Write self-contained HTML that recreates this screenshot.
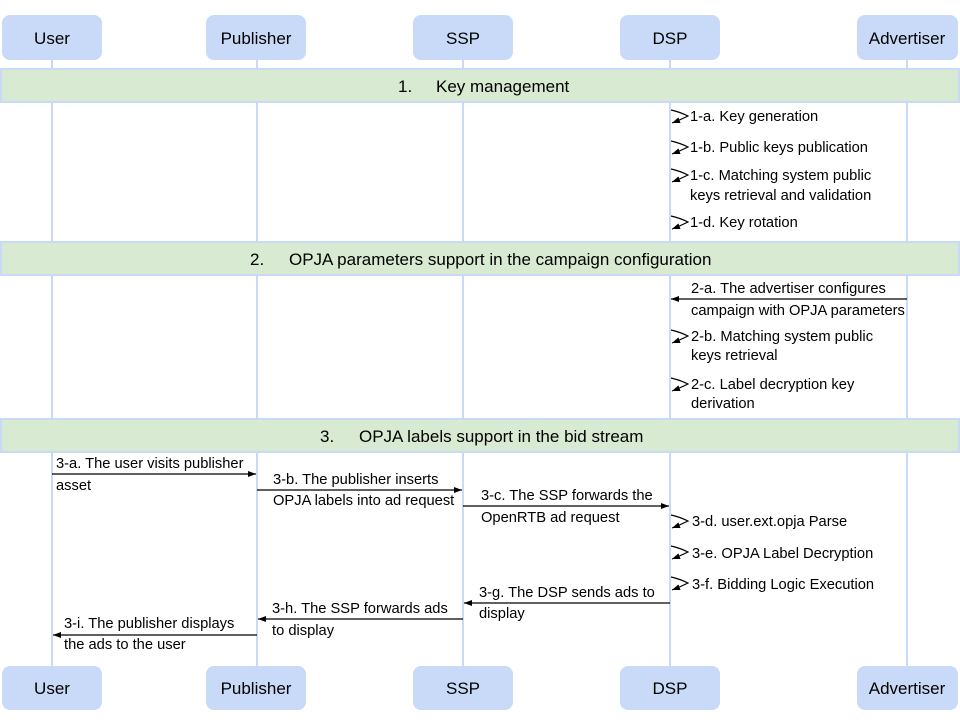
<!DOCTYPE html>
<html><head><meta charset="utf-8"><style>
html,body{margin:0;padding:0;background:#fff}
svg{display:block;font-family:"Liberation Sans",Arial,sans-serif}
</style></head><body>
<svg width="960" height="720" viewBox="0 0 960 720" xmlns="http://www.w3.org/2000/svg">
<defs>
<marker id="a" markerWidth="8" markerHeight="6" refX="8" refY="3" orient="auto" markerUnits="userSpaceOnUse"><path d="M0,0 L8,3 L0,6 z" fill="#000"/></marker>
</defs>
<g stroke="#c9daf8" stroke-width="2">
<line x1="52" y1="60" x2="52" y2="666"/>
<line x1="257" y1="60" x2="257" y2="666"/>
<line x1="463" y1="60" x2="463" y2="666"/>
<line x1="670" y1="60" x2="670" y2="666"/>
<line x1="907" y1="60" x2="907" y2="666"/>
</g>
<g fill="#c9daf8">
<rect x="2" y="15" width="100" height="45" rx="8"/>
<rect x="206" y="15" width="100" height="45" rx="8"/>
<rect x="413" y="15" width="100" height="45" rx="8"/>
<rect x="620" y="15" width="100" height="45" rx="8"/>
<rect x="857" y="15" width="101" height="45" rx="8"/>
<rect x="2" y="666" width="100" height="44" rx="8"/>
<rect x="206" y="666" width="100" height="44" rx="8"/>
<rect x="413" y="666" width="100" height="44" rx="8"/>
<rect x="620" y="666" width="100" height="44" rx="8"/>
<rect x="857" y="666" width="101" height="44" rx="8"/>
</g>
<g font-size="17" text-anchor="middle" fill="#000">
<text x="52" y="44">User</text><text x="256" y="44">Publisher</text><text x="463" y="44">SSP</text><text x="670" y="44">DSP</text><text x="907" y="44">Advertiser</text>
<text x="52" y="694">User</text><text x="256" y="694">Publisher</text><text x="463" y="694">SSP</text><text x="670" y="694">DSP</text><text x="907" y="694">Advertiser</text>
</g>
<g fill="#d9ead3" stroke="#c9daf8" stroke-width="2">
<rect x="1" y="69" width="958" height="33"/>
<rect x="1" y="242" width="958" height="33"/>
<rect x="1" y="419" width="958" height="33"/>
</g>
<g font-size="17" fill="#000">
<text x="398" y="92">1.</text><text x="436" y="92">Key management</text>
<text x="250" y="265">2.</text><text x="289" y="265">OPJA parameters support in the campaign configuration</text>
<text x="320" y="442">3.</text><text x="359" y="442">OPJA labels support in the bid stream</text>
</g>
<g fill="none" stroke="#000" stroke-width="1.2">
<path d="M671,110 Q680,112 688,116 Q680,120 672,123" marker-end="url(#a)"/>
<path d="M671,141 Q680,143 688,147 Q680,151 672,154" marker-end="url(#a)"/>
<path d="M671,169 Q680,171 688,175 Q680,179 672,182" marker-end="url(#a)"/>
<path d="M671,216 Q680,218 688,222 Q680,226 672,229" marker-end="url(#a)"/>
<path d="M671,330 Q680,332 688,336 Q680,340 672,343" marker-end="url(#a)"/>
<path d="M671,378 Q680,380 688,384 Q680,388 672,391" marker-end="url(#a)"/>
<path d="M671,515 Q680,517 688,521 Q680,525 672,528" marker-end="url(#a)"/>
<path d="M671,546 Q680,548 688,552 Q680,556 672,559" marker-end="url(#a)"/>
<path d="M671,577 Q680,579 688,583 Q680,587 672,590" marker-end="url(#a)"/>
<line x1="907" y1="299" x2="671" y2="299" marker-end="url(#a)"/>
<line x1="52" y1="474" x2="256" y2="474" marker-end="url(#a)"/>
<line x1="257" y1="490" x2="462" y2="490" marker-end="url(#a)"/>
<line x1="463" y1="506" x2="669" y2="506" marker-end="url(#a)"/>
<line x1="670" y1="603" x2="464" y2="603" marker-end="url(#a)"/>
<line x1="463" y1="619" x2="258" y2="619" marker-end="url(#a)"/>
<line x1="257" y1="635" x2="53" y2="635" marker-end="url(#a)"/>
</g>
<g font-size="14.7" fill="#000">
<text x="690" y="121">1-a. Key generation</text>
<text x="690" y="152">1-b. Public keys publication</text>
<text x="690" y="180">1-c. Matching system public</text>
<text x="690" y="200">keys retrieval and validation</text>
<text x="690" y="227">1-d. Key rotation</text>
<text x="691" y="293">2-a. The advertiser configures</text>
<text x="691" y="315">campaign with OPJA parameters</text>
<text x="691" y="341">2-b. Matching system public</text>
<text x="691" y="360">keys retrieval</text>
<text x="691" y="389">2-c. Label decryption key</text>
<text x="691" y="408">derivation</text>
<text x="56" y="468">3-a. The user visits publisher</text>
<text x="56" y="490">asset</text>
<text x="273" y="484">3-b. The publisher inserts</text>
<text x="273" y="505">OPJA labels into ad request</text>
<text x="481" y="500">3-c. The SSP forwards the</text>
<text x="481" y="522">OpenRTB ad request</text>
<text x="692" y="526">3-d. user.ext.opja Parse</text>
<text x="692" y="558">3-e. OPJA Label Decryption</text>
<text x="692" y="589">3-f. Bidding Logic Execution</text>
<text x="479" y="597">3-g. The DSP sends ads to</text>
<text x="479" y="618">display</text>
<text x="272" y="613">3-h. The SSP forwards ads</text>
<text x="272" y="635">to display</text>
<text x="64" y="628">3-i. The publisher displays</text>
<text x="64" y="649">the ads to the user</text>
</g>
</svg>
</body></html>
